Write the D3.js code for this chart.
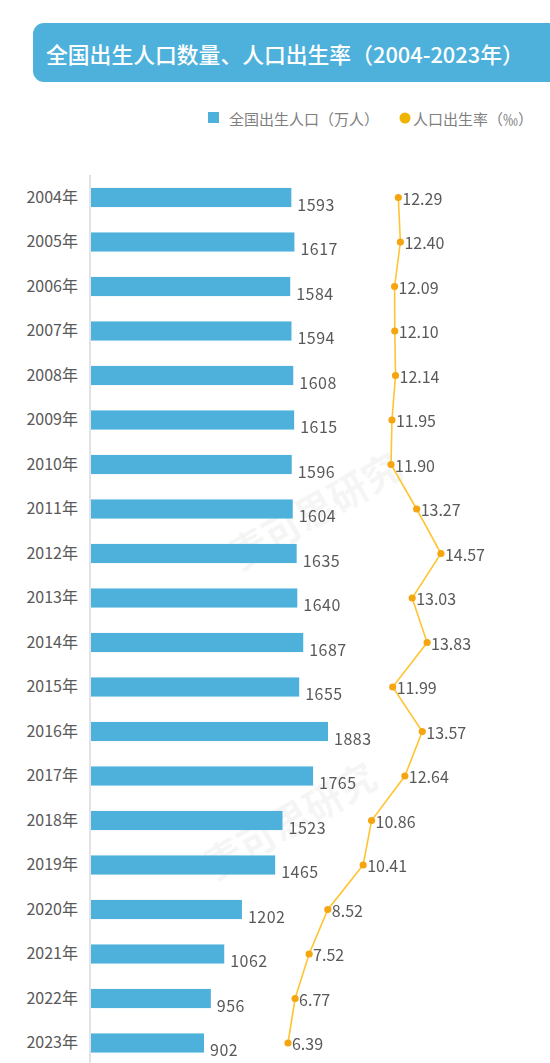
<!DOCTYPE html>
<html>
<head>
<meta charset="utf-8">
<script src="https://cdn.jsdelivr.net/npm/d3@7/dist/d3.min.js"></script>
<style>
  html, body { margin: 0; padding: 0; background: #fff; }
  svg { display: block; font-family: "Noto Sans CJK SC", "Noto Sans", sans-serif; }
</style>
</head>
<body>
<svg id="chart" width="550" height="1063"></svg>
<script>
const years = ["2004年","2005年","2006年","2007年","2008年","2009年","2010年","2011年","2012年","2013年","2014年","2015年","2016年","2017年","2018年","2019年","2020年","2021年","2022年","2023年"];
const births = [1593,1617,1584,1594,1608,1615,1596,1604,1635,1640,1687,1655,1883,1765,1523,1465,1202,1062,956,902];
const rates = [12.29,12.40,12.09,12.10,12.14,11.95,11.90,13.27,14.57,13.03,13.83,11.99,13.57,12.64,10.86,10.41,8.52,7.52,6.77,6.39];
const rateLabels = ["12.29","12.40","12.09","12.10","12.14","11.95","11.90","13.27","14.57","13.03","13.83","11.99","13.57","12.64","10.86","10.41","8.52","7.52","6.77","6.39"];
const titleText = "全国出生人口数量、人口出生率（2004-2023年）";
const legendLabels = ["全国出生人口（万人）", "人口出生率（‰）"];

const svg = d3.select("#chart");
const W = 550, H = 1063;

// Title banner
svg.append("rect").attr("x", 33).attr("y", 23).attr("width", 540).attr("height", 59)
  .attr("rx", 11).attr("fill", "#4DB1DC");
svg.append("text").attr("x", 46).attr("y", 53).attr("dominant-baseline", "central")
  .attr("fill", "#fff").attr("font-size", 21.8).attr("font-weight", 500)
  .text(titleText);

// Legend
const lg = svg.append("g");
lg.append("rect").attr("x", 208).attr("y", 112).attr("width", 11).attr("height", 11).attr("fill", "#4DB1DC");
lg.append("text").attr("x", 229).attr("y", 118).attr("dominant-baseline", "central")
  .attr("font-size", 15).attr("fill", "#808080").text(legendLabels[0]);
lg.append("circle").attr("cx", 405).attr("cy", 118).attr("r", 5.5).attr("fill", "#F0B400");
lg.append("text").attr("x", 413).attr("y", 118).attr("dominant-baseline", "central")
  .attr("font-size", 15).attr("fill", "#808080").text(legendLabels[1]);

// Watermarks (faint)
const wm = svg.append("g").attr("fill", "#000").attr("opacity", 0.04).attr("font-size", 38).attr("font-weight", 700);
[[240, 570], [215, 880]].forEach(([x, y]) => {
  wm.append("text").attr("transform", `translate(${x},${y}) rotate(-30)`).text("麦可思研究");
});

// Scales
const y = d3.scaleBand().domain(years).range([175.25, 175.25 + 44.5 * years.length])
  .paddingInner(0.57).paddingOuter(0.285);
const x = d3.scaleLinear().domain([0, 2000]).range([90, 90 + 2000 * 0.1264]);
const xr = d3.scaleLinear().domain([0, 20]).range([168.5, 168.5 + 20 * 18.7]);

// Y axis
const yAxis = svg.append("g").attr("transform", "translate(90,0)")
  .call(d3.axisLeft(y).tickSize(0).tickPadding(12));
yAxis.select(".domain").remove();
yAxis.selectAll("text").attr("font-size", 16).attr("fill", "#595959")
  .attr("font-family", "'Noto Sans CJK SC', sans-serif");
svg.append("line").attr("x1", 90).attr("x2", 90).attr("y1", 175).attr("y2", H)
  .attr("stroke", "#e3e3e3").attr("stroke-width", 2);

// Bars
svg.append("g").selectAll("rect").data(births).join("rect")
  .attr("x", x(0) + 1)
  .attr("y", (d, i) => y(years[i]))
  .attr("width", d => x(d) - x(0) - 1)
  .attr("height", y.bandwidth())
  .attr("fill", "#4DB1DC");

svg.append("g").selectAll("text").data(births).join("text")
  .attr("x", d => x(d) + 6)
  .attr("y", (d, i) => y(years[i]) + y.bandwidth() / 2 + 6)
  .attr("dominant-baseline", "central")
  .attr("font-size", 16).attr("letter-spacing", 0.5).attr("fill", "#595959")
  .text(d => d);

// Rate line
const cy = (i) => y(years[i]) + y.bandwidth() / 2;
const line = d3.line().x(d => xr(d)).y((d, i) => cy(i));
svg.append("path").datum(rates).attr("d", line)
  .attr("fill", "none").attr("stroke", "#FFC433").attr("stroke-width", 1.6);
svg.append("g").selectAll("circle").data(rates).join("circle")
  .attr("cx", d => xr(d)).attr("cy", (d, i) => cy(i)).attr("r", 3.6)
  .attr("fill", "#F5A50F");
svg.append("g").selectAll("text").data(rates).join("text")
  .attr("x", d => xr(d) + 4)
  .attr("y", (d, i) => cy(i))
  .attr("dominant-baseline", "central")
  .attr("font-size", 16).attr("fill", "#595959")
  .text((d, i) => rateLabels[i]);
</script>
</body>
</html>
